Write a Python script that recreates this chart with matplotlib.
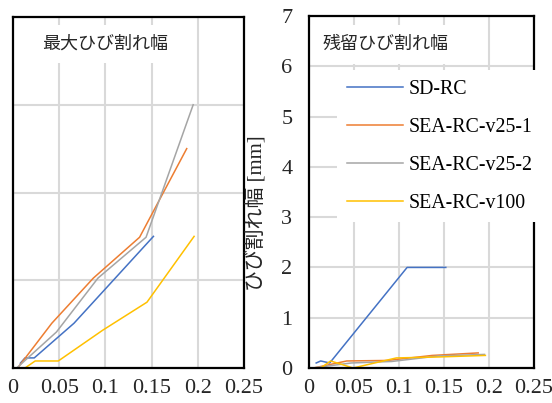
import numpy as np
import matplotlib
matplotlib.use("Agg")
from matplotlib import pyplot as plt
from matplotlib.patches import Rectangle

plt.rcParams['font.family'] = ['Liberation Serif', 'Noto Sans CJK JP']

# series names and colours (Excel defaults)
names = ['SD-RC', 'SEA-RC-v25-1', 'SEA-RC-v25-2', 'SEA-RC-v100']
colors = ['#4472C4', '#ED7D31', '#A5A5A5', '#FFC000']

# drift (x) for each specimen
x_sd = [0.008, 0.013, 0.023, 0.066, 0.109, 0.152]
x_v25_1 = [0.005, 0.042, 0.087, 0.137, 0.188]
x_v25_2 = [0.004, 0.047, 0.092, 0.144, 0.195]
x_v100 = [0.013, 0.024, 0.049, 0.097, 0.145, 0.196]

# maximum crack width [mm]
max_sd = [0.11, 0.23, 0.23, 1.02, 2.01, 3.0]
max_v25_1 = [0.0, 1.02, 2.05, 2.98, 5.0]
max_v25_2 = [0.0, 0.82, 2.05, 2.98, 6.0]
max_v100 = [0.0, 0.16, 0.16, 0.86, 1.5, 3.0]

# residual crack width [mm]
res_sd = [0.1, 0.14, 0.1, 1.05, 2.0, 2.0]
res_v25_1 = [0.0, 0.14, 0.15, 0.25, 0.3]
res_v25_2 = [0.0, 0.1, 0.13, 0.24, 0.27]
res_v100 = [0.0, 0.14, 0.0, 0.2, 0.22, 0.25]

xs = [x_sd, x_v25_1, x_v25_2, x_v100]
max_ys = [max_sd, max_v25_1, max_v25_2, max_v100]
res_ys = [res_sd, res_v25_1, res_v25_2, res_v100]

FS_TICK = 16
FS_LEG = 14.3
FS_JP = 13
W, H = 552, 403


def style_axes(ax, ymax, ystep):
    ax.set_xlim(0, 0.25)
    ax.set_ylim(0, ymax)
    ax.set_xticks(np.arange(0, 0.2501, 0.05))
    ax.set_xticklabels(['0', '0.05', '0.1', '0.15', '0.2', '0.25'])
    ax.set_yticks(np.arange(0, ymax + 0.001, ystep))
    ax.grid(True, color='#D9D9D9', linewidth=1.5)
    ax.set_axisbelow(True)
    ax.tick_params(length=0, labelsize=FS_TICK, pad=8, labelcolor='#262626')
    for s in ax.spines.values():
        s.set_linewidth(1.6)
        s.set_color('black')


def title_box(ax, x0, x1, y0, y1, x_text, label):
    # white box behind the panel title, in pixel coords of the figure
    b = ax.get_position()
    bx = (x0 / W - b.x0) / b.width
    by = (1 - y1 / H - b.y0) / b.height
    bw = (x1 - x0) / W / b.width
    bh = (y1 - y0) / H / b.height
    ax.add_patch(Rectangle((bx, by), bw, bh, transform=ax.transAxes,
                           facecolor='white', edgecolor='none', zorder=1))
    ax.text((x_text / W - b.x0) / b.width, by + bh / 2, label,
            transform=ax.transAxes, fontsize=FS_JP, va='center', ha='left',
            color='#262626', zorder=3)


fig = plt.figure(figsize=(W / 100, H / 100), dpi=100)
ax1 = fig.add_axes([13 / W, 35 / H, 231 / W, 351 / H])
ax2 = fig.add_axes([309 / W, 35 / H, 225 / W, 352 / H])

# left: maximum crack width
for x, y, c in zip(xs, max_ys, colors):
    ax1.plot(x, y, color=c, linewidth=1.1, zorder=2)
style_axes(ax1, 8, 2)
ax1.set_yticklabels([])
title_box(ax1, 14, 175, 25, 63, 42, '最大ひび割れ幅')

# right: residual crack width
for x, y, c, n in zip(xs, res_ys, colors, names):
    ax2.plot(x, y, color=c, linewidth=1.1, zorder=2, label=n)
style_axes(ax2, 7, 1)
ax2.tick_params(axis='y', pad=12)
ax2.set_ylabel('ひび割れ幅 [mm]', fontsize=15, color='#262626')
ax2.yaxis.set_label_coords((268 - 309) / 225, 0.44)
title_box(ax2, 310, 467, 25, 64, 323, '残留ひび割れ幅')

leg = ax2.legend(loc='upper left', bbox_to_anchor=((337 - 309) / 225, (368 - 70) / 352),
                 fontsize=FS_LEG, frameon=True, fancybox=False, framealpha=1,
                 facecolor='white', edgecolor='none', handlelength=2.8,
                 handletextpad=0.3, labelspacing=0.95, borderpad=0.5,
                 borderaxespad=0)
leg.set_zorder(4)

plt.savefig('out.png', dpi=100)
plt.close()
